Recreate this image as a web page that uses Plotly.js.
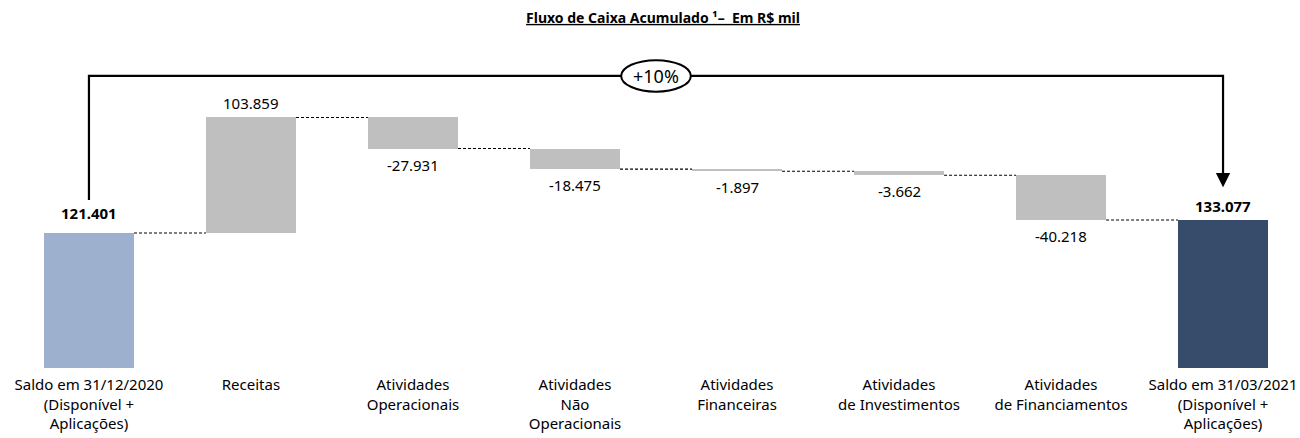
<!DOCTYPE html>
<html>
<head>
<meta charset="utf-8">
<script src="https://cdn.plot.ly/plotly-3.0.1.min.js"></script>
<style>html,body{margin:0;padding:0;background:#fff;}#chart{width:1300px;height:438px;}</style>
</head>
<body>
<div id="chart"></div>
<script>
// Data (R$ mil)
const categories = [
  "Saldo em 31/12/2020<br>(Disponível +<br>Aplicações)",
  "Receitas",
  "Atividades<br>Operacionais",
  "Atividades<br>Não<br>Operacionais",
  "Atividades<br>Financeiras",
  "Atividades<br>de Investimentos",
  "Atividades<br>de Financiamentos",
  "Saldo em 31/03/2021<br>(Disponível +<br>Aplicações)"
];
const values = [121401, 103859, -27931, -18475, -1897, -3662, -40218, 133077];
const measures = ["absolute","relative","relative","relative","relative","relative","relative","total"];
const changeLabel = "+10%";
const titleText = "Fluxo de Caixa Acumulado ¹–  Em R$ mil";

const colors = {start:"#9DB0CE", end:"#374C6B", step:"#BFBFBF"};
const FONT = "Noto Sans, sans-serif";

function fmt(v){
  const s = Math.abs(v).toString().replace(/\B(?=(\d{3})+(?!\d))/g, ".");
  return (v < 0 ? "-" : "") + s;
}

// compute bases / levels
const xs = categories.map((_, i) => i);
const bases = [], heights = [], levels = [], barColors = [];
let level = 0;
values.forEach((v, i) => {
  if (measures[i] === "absolute" || measures[i] === "total") {
    bases.push(0); heights.push(v); level = v;
    barColors.push(i === 0 ? colors.start : colors.end);
  } else {
    bases.push(v >= 0 ? level : level + v);
    heights.push(Math.abs(v));
    level += v;
    barColors.push(colors.step);
  }
  levels.push(level);
});

const barW = 0.556;
const trace = {
  type: "bar", x: xs, y: heights, base: bases, width: barW,
  marker: {color: barColors, line: {width: 0}},
  hoverinfo: "skip"
};

const shapes = [];
// connectors
for (let i = 0; i < values.length - 1; i++) {
  shapes.push({type:"line", xref:"x", yref:"y",
    x0: i + barW/2, x1: i + 1 - barW/2, y0: levels[i], y1: levels[i],
    line:{color:"#000", width:1.1, dash:"3px,2px"}});
}
// bracket
const yTop = 262600, yLeftBottom = 151000, yArrowTip = 162500;
const first = 0, last = values.length - 1;
shapes.push({type:"path", xref:"x", yref:"y",
  path:`M ${first} ${yLeftBottom} L ${first} ${yTop} L ${last} ${yTop} L ${last} ${yArrowTip + 9000}`,
  line:{color:"#000", width:2.2}});
shapes.push({type:"circle", xref:"x", yref:"y",
  x0: (first+last)/2 - 0.215, x1: (first+last)/2 + 0.215, y0: 248500, y1: 276800,
  fillcolor:"#fff", line:{color:"#000", width:2}});

const annotations = [];
values.forEach((v, i) => {
  const isTotal = measures[i] !== "relative";
  const top = bases[i] + heights[i];
  if (v >= 0) {
    annotations.push({x:i, y: top, xref:"x", yref:"y", text: isTotal ? "<b>"+fmt(v)+"</b>" : fmt(v),
      showarrow:false, yanchor:"middle", yshift: i === 0 ? 20 : 14,
      font:{family:FONT, size:15, color:"#000"}});
  } else {
    annotations.push({x:i, y: bases[i], xref:"x", yref:"y", text: fmt(v),
      showarrow:false, yanchor:"middle", yshift: -16,
      font:{family:FONT, size:15, color:"#000"}});
  }
});
// arrow head
annotations.push({x:last, y:yArrowTip, xref:"x", yref:"y", ax:last, ay:yArrowTip + 12000, axref:"x", ayref:"y",
  showarrow:true, arrowhead:2, arrowsize:1.3, arrowwidth:2.2, arrowcolor:"#000", text:""});
annotations.push({x:(first+last)/2, y:yTop, xref:"x", yref:"y", text: changeLabel, showarrow:false,
  font:{family:FONT, size:18, color:"#000"}});

const layout = {
  width:1300, height:438,
  margin:{l:0, r:0, t:0, b:70},
  paper_bgcolor:"#fff", plot_bgcolor:"#fff",
  showlegend:false,
  title:{text: titleText, x:0.51, xanchor:"center", y: 1 - 18/438, yref:"container", yanchor:"middle",
    font:{family:FONT, size:14, color:"#000", weight:"bold", lineposition:"under"}},
  xaxis:{range:[-0.549, 7.475], tickvals: xs, ticktext: categories, showgrid:false, zeroline:false,
    showline:false, ticks:"", ticklabelstandoff:6, tickfont:{family:FONT, size:15, color:"#000"}, fixedrange:true, tickangle:0},
  yaxis:{range:[0, 330900], visible:false, showgrid:false, zeroline:false, fixedrange:true},
  shapes, annotations,
  bargap:0
};
Plotly.newPlot("chart", [trace], layout, {displayModeBar:false, staticPlot:true});
</script>
</body>
</html>
